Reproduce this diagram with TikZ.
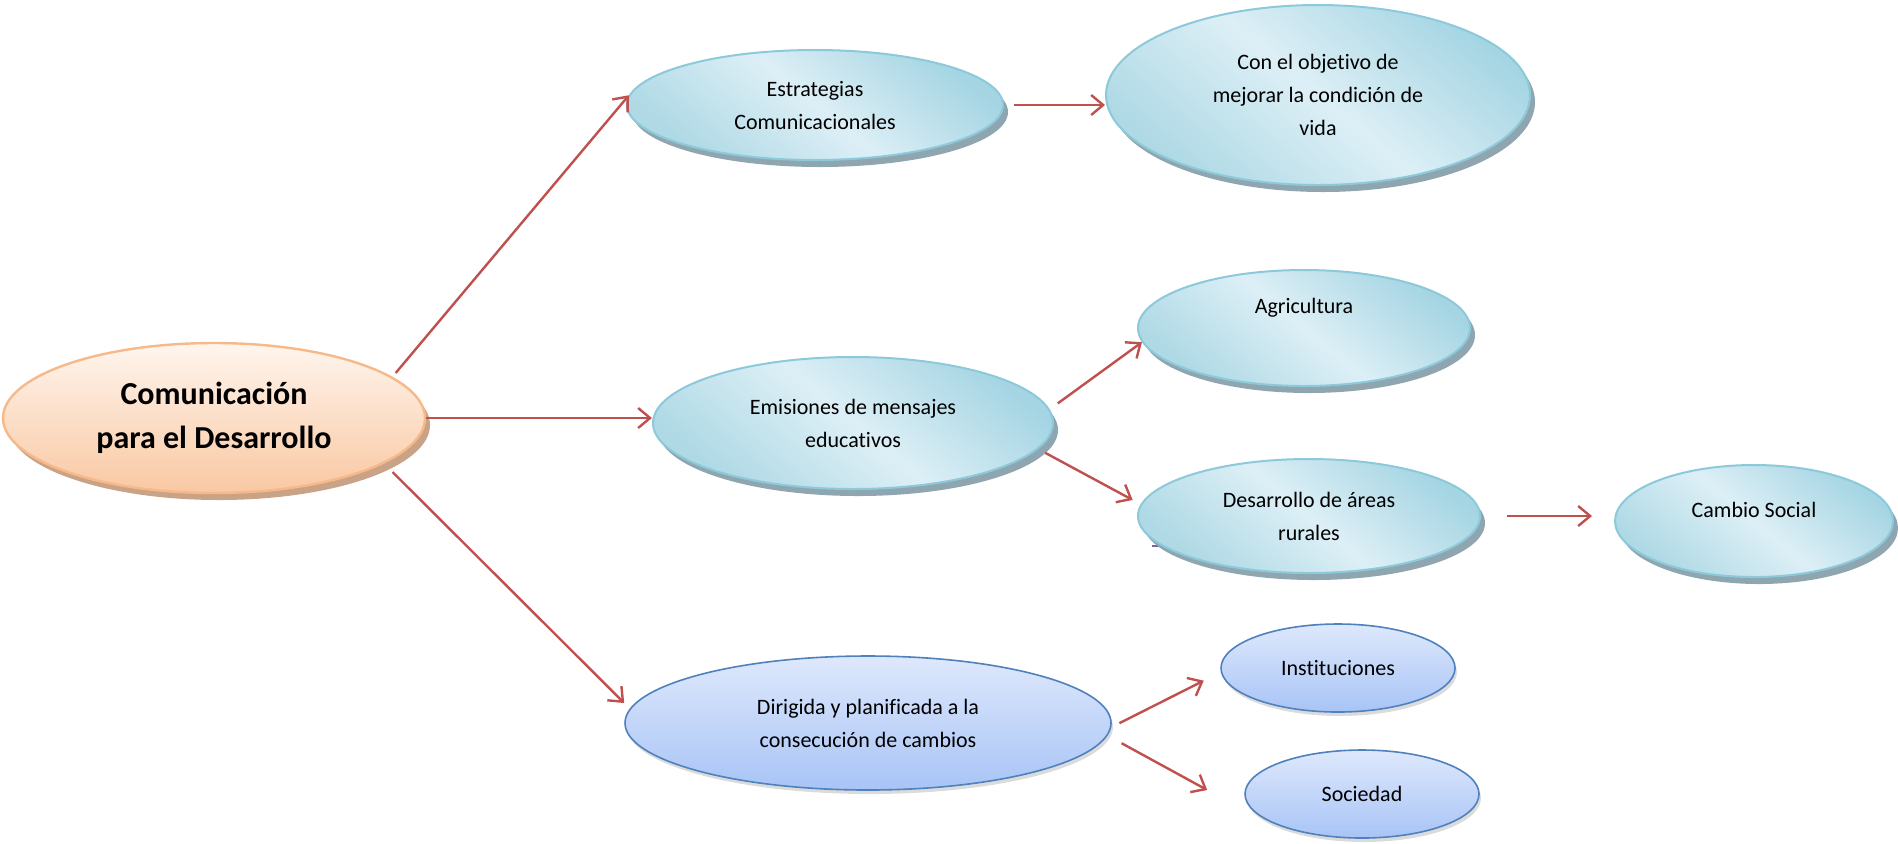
\documentclass[tikz,border=0pt]{standalone}
\usepackage{fontspec}
\setmainfont{Carlito}[Ligatures=NoCommon]
\usetikzlibrary{shapes.geometric,shadows,arrows.meta}
\definecolor{arr}{HTML}{C0504D}
\definecolor{cyb}{HTML}{8CC9DA}
\definecolor{cytop}{HTML}{A5D5E3}
\definecolor{cymid}{HTML}{DDEFF6}
\definecolor{cybot}{HTML}{AED9E5}
\definecolor{cyshadow}{HTML}{8FA6B0}
\definecolor{pwb}{HTML}{4F81BD}
\definecolor{pwtop}{HTML}{DEE8FC}
\definecolor{pwbot}{HTML}{A8C4F6}
\definecolor{orb}{HTML}{F7B98A}
\definecolor{ortop}{HTML}{FFF5EE}
\definecolor{orbot}{HTML}{F9C8A2}
\definecolor{orshadow}{HTML}{C9A387}
\definecolor{purp}{HTML}{7F5FA8}
\tikzset{
  ell/.style={ellipse, inner sep=0pt, align=center, font=\fontsize{11}{16.5}\selectfont},
  cyell/.style={ell, draw=cyb, line width=1pt,
    top color=cytop, bottom color=cybot, middle color=cymid, shading angle=-40,
    drop shadow={shadow xshift=2.5pt, shadow yshift=-3.5pt, fill=cyshadow, opacity=1}},
  pwell/.style={ell, draw=pwb, line width=0.8pt,
    top color=pwtop, bottom color=pwbot,
    drop shadow={shadow xshift=1pt, shadow yshift=-2pt, fill=black!40, opacity=0.35}},
  orell/.style={ell, draw=orb, line width=1.2pt,
    top color=ortop, bottom color=orbot,
    drop shadow={shadow xshift=2.5pt, shadow yshift=-3.5pt, fill=orshadow, opacity=1},
    font=\fontsize{16}{21.8}\selectfont\bfseries},
  conn/.style={draw=arr, line width=1.2pt, -{Straight Barb[length=6pt,width=10pt,line width=1.2pt]}}
}
\begin{document}
\begin{tikzpicture}[x=0.5pt,y=-0.5pt]
\useasboundingbox (0,0) rectangle (1898,843);
\draw[draw=purp, line width=1.3pt] (1152,546) -- (1178,546);
% nodes
\node[orell, minimum width=211pt, minimum height=75pt] (main) at (214,418) {Comunicación\\para el Desarrollo};
\node[cyell, minimum width=188pt, minimum height=55pt] (estr) at (815,105) {Estrategias\\Comunicacionales};
\node[cyell, minimum width=212pt, minimum height=90pt] (con) at (1318,95) {Con el objetivo de\\mejorar la condición de\\vida};
\node[cyell, minimum width=200pt, minimum height=66pt] (emi) at (853,423) {Emisiones de mensajes\\educativos};
\node[cyell, minimum width=166pt, minimum height=58pt] (agr) at (1304,328) {};
\node[ell] (agrtext) at (1304,308) {Agricultura};
\node[cyell, minimum width=171pt, minimum height=57pt] (des) at (1309,516) {Desarrollo de áreas\\rurales};
\node[cyell, minimum width=139pt, minimum height=56pt] (cam) at (1754,521) {};
\node[ell] (camtext) at (1754,510) {Cambio Social};
\node[pwell, minimum width=243pt, minimum height=67pt] (dir) at (868,723) {Dirigida y planificada a la\\consecución de cambios};
\node[pwell, minimum width=117pt, minimum height=44pt] (ins) at (1338,668) {Instituciones};
\node[pwell, minimum width=117pt, minimum height=44pt] (soc) at (1362,794) {Sociedad};
% connectors
\draw[conn, shorten <=2.5pt] (main.13) -- (estr.177);
\draw[conn] (main.0) -- (main.0 -| emi.west);
\draw[conn, shorten <=6pt] (main.-15) -- ([yshift=10pt]dir.west);
\draw[conn, shorten <=5pt] (estr.east) -- (estr.east -| con.west);
\draw[conn, shorten <=5pt] (emi.4) -- (agr.185);
\draw[conn, shorten <=4pt, shorten >=4.5pt] (emi.-8) -- (des.176);
\draw[conn, shorten <=13pt, shorten >=11pt] (des.east) -- (des.east -| cam.west);
\draw[conn, shorten <=4.5pt, shorten >=9.5pt] (dir.-1) -- (ins.182);
\draw[conn, shorten <=8pt] (dir.-3) -- ([xshift=-18.5pt,yshift=2pt]soc.west);
\end{tikzpicture}
\end{document}
